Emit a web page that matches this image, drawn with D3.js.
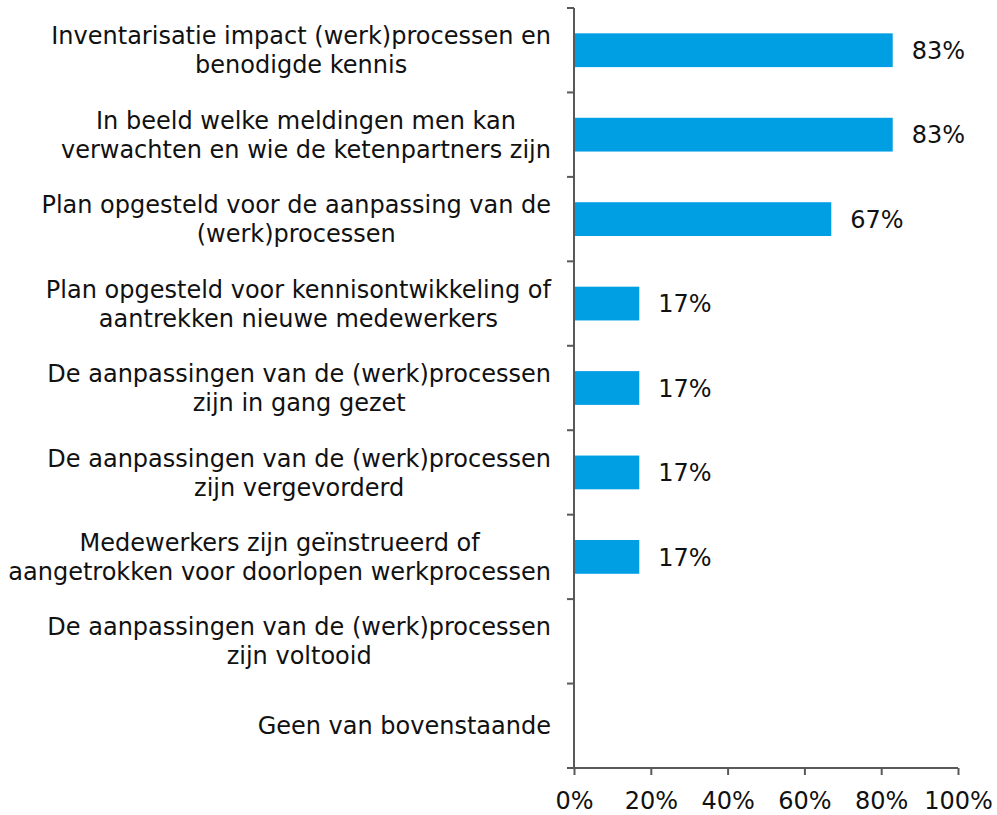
<!DOCTYPE html>
<html><head><meta charset="utf-8">
<script src="https://cdn.jsdelivr.net/npm/d3@7"></script>
<style>body{margin:0;background:#fff}</style>
</head><body>
<svg id="chart" width="997" height="815"></svg>
<script>
const categories = [
  ["Inventarisatie impact (werk)processen en","benodigde kennis"],
  ["In beeld welke meldingen men kan","verwachten en wie de ketenpartners zijn"],
  ["Plan opgesteld voor de aanpassing van de","(werk)processen"],
  ["Plan opgesteld voor kennisontwikkeling of","aantrekken nieuwe medewerkers"],
  ["De aanpassingen van de (werk)processen","zijn in gang gezet"],
  ["De aanpassingen van de (werk)processen","zijn vergevorderd"],
  ["Medewerkers zijn geïnstrueerd of","aangetrokken voor doorlopen werkprocessen"],
  ["De aanpassingen van de (werk)processen","zijn voltooid"],
  ["Geen van bovenstaande"]
];
const values = [83, 83, 67, 17, 17, 17, 17, null, null];
const xTicks = [0, 20, 40, 60, 80, 100];

(function(){
const svg = d3.select("#chart");
const font = "'DejaVu Sans', Verdana, sans-serif";
const fs = 24;
const pl = 574, pr = 958, pt = 8, pb = 768;
const x = d3.scaleLinear().domain([0, 100]).range([pl, pr]);
const y = d3.scaleBand().domain(d3.range(categories.length)).range([pt, pb]).paddingInner(0.6).paddingOuter(0.3);
const axisColor = "#595959";
const data = values.map((v,i)=>({v,i})).filter(d=>d.v!=null);

svg.selectAll("rect.bar").data(data)
  .enter().append("rect").attr("class","bar")
  .attr("x", x(0)).attr("y", d=>y(d.i)).attr("width", d=>x(d.v)-x(0)).attr("height", y.bandwidth())
  .attr("fill","#009FE3");

svg.selectAll("text.val").data(data)
  .enter().append("text").attr("class","val")
  .attr("x", d=>x(d.v)+19).attr("y", d=>y(d.i)+y.bandwidth()/2)
  .attr("dy","0.36em").attr("font-family",font).attr("font-size",fs).attr("fill","#111")
  .text(d=>d.v+"%");

const step = (pb-pt)/categories.length;
svg.append("line").attr("x1",pl).attr("x2",pl).attr("y1",pt).attr("y2",pb).attr("stroke",axisColor).attr("stroke-width",2);
d3.range(categories.length+1).forEach(k=>{
  const yy = pt + k*step;
  svg.append("line").attr("x1",pl-7).attr("x2",pl).attr("y1",yy).attr("y2",yy).attr("stroke",axisColor).attr("stroke-width",2);
});

const xAxis = d3.axisBottom(x).tickValues(xTicks).tickFormat(d=>d+"%").tickSize(7).tickSizeOuter(0);
const gx = svg.append("g").attr("transform",`translate(0,${pb})`).call(xAxis);
gx.select(".domain").attr("stroke",axisColor).attr("stroke-width",2).attr("d",`M${pl-7},0H${pr}`);
gx.selectAll(".tick line").attr("stroke",axisColor).attr("stroke-width",2);
gx.selectAll(".tick text").attr("font-family",font).attr("font-size",fs).attr("fill","#111").attr("y",24);

const labelRight = 551;
const lineH = 29;
categories.forEach((lines,i)=>{
  const cy = pt + (i+0.5)*step;
  const g = svg.append("g");
  const ts = lines.map((l,j)=> g.append("text").attr("font-family",font).attr("font-size",fs).attr("fill","#111")
     .attr("text-anchor","middle").attr("y", cy + (j-(lines.length-1)/2)*lineH).attr("dy","0.36em").text(l));
  const maxW = d3.max(ts, t=>t.node().getComputedTextLength());
  ts.forEach(t=>t.attr("x", labelRight - maxW/2));
});
})();
</script>
</body></html>
